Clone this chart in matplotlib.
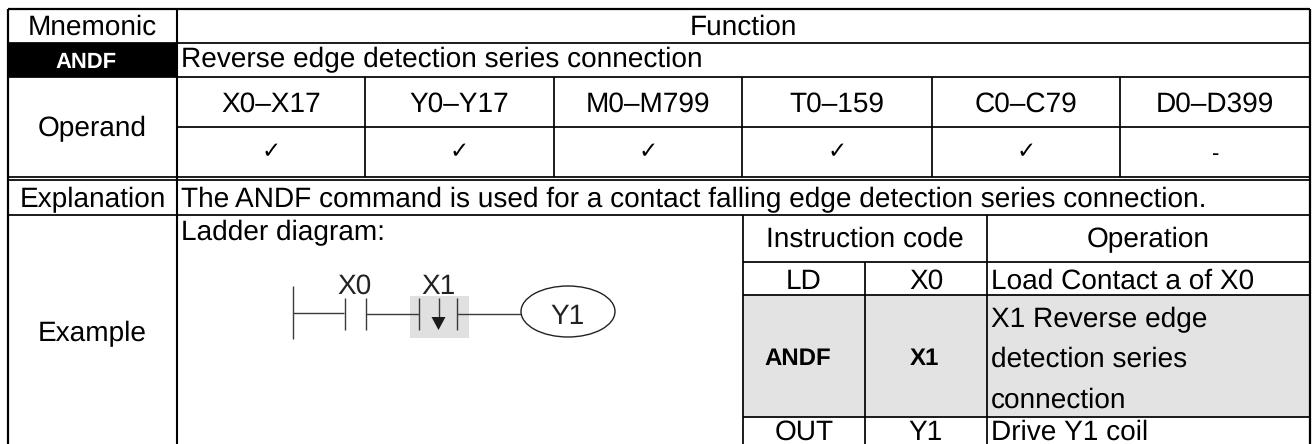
import matplotlib
matplotlib.use("Agg")
import matplotlib.pyplot as plt
from matplotlib.patches import Rectangle, Ellipse, Polygon

plt.rcParams['font.family'] = ['Liberation Sans', 'DejaVu Sans']
plt.rcParams['text.hinting'] = 'none'
plt.rcParams['text.hinting_factor'] = 1

row_labels = ["Mnemonic", "Operand", "Explanation", "Example"]
mnemonic = "ANDF"
function_header = "Function"
function_text = "Reverse edge detection series connection"
operands = ["X0–X17", "Y0–Y17", "M0–M799", "T0–159", "C0–C79", "D0–D399"]
operand_marks = ["✓", "✓", "✓", "✓", "✓", "-"]
explanation = "The ANDF command is used for a contact falling edge detection series connection."
ladder_title = "Ladder diagram:"
code_header = "Instruction code"
op_header = "Operation"
codes = ["LD", "ANDF", "OUT"]
code_args = ["X0", "X1", "Y1"]
operations = ["Load Contact a of X0", "X1 Reverse edge\ndetection series\nconnection", "Drive Y1 coil"]
contacts = ["X0", "X1"]
coil = "Y1"

W, H = 1316, 444
X_EDGES = [8, 177, 365, 554, 742, 932, 1120, 1310]
Y_EDGES = [9, 43, 77, 127, 177.5, 180.5, 214.5, 261.5, 295, 416.5, 444]
XI = [743, 865, 987]

fig = plt.figure(figsize=(W / 100, H / 100), dpi=100, facecolor="white")
ax = fig.add_axes([0, 0, 1, 1])
ax.set_xlim(0, W)
ax.set_ylim(H, 0)
ax.axis("off")

FS = 20
LW = 1.25
INK = "#000000"


def line(x0, y0, x1, y1, lw=LW, c=INK, z=3):
    ax.plot([x0, x1], [y0, y1], color=c, lw=lw, solid_capstyle="butt", zorder=z)


def text(x, y, s, ha="center", fs=FS, weight="normal", c=INK, **kw):
    ax.text(x, y, s, ha=ha, va="baseline", fontsize=fs, fontweight=weight, color=c, zorder=5, **kw)


# fills
ax.add_patch(Rectangle((X_EDGES[0], Y_EDGES[1]), X_EDGES[1] - X_EDGES[0], Y_EDGES[2] - Y_EDGES[1],
                       fc="black", ec="none", zorder=1))
ax.add_patch(Rectangle((XI[0], Y_EDGES[8]), X_EDGES[-1] - XI[0], Y_EDGES[9] - Y_EDGES[8],
                       fc="#e3e3e3", ec="none", zorder=1))
ax.add_patch(Rectangle((410, 296), 59, 42, fc="#e0e0e0", ec="none", zorder=1))

# table rules
L, C, R = X_EDGES[0], X_EDGES[1], X_EDGES[-1]
for y in Y_EDGES[:3] + Y_EDGES[4:7]:
    line(L, y, R, y)
line(C, Y_EDGES[3], R, Y_EDGES[3])
line(L, Y_EDGES[0], R, Y_EDGES[0], lw=1.6)
line(L, Y_EDGES[0], L, H, lw=1.6)
line(R, Y_EDGES[0], R, H, lw=1.6)
line(C, Y_EDGES[0], C, H, lw=1.5)
for x in X_EDGES[2:-1]:
    line(x, Y_EDGES[2], x, Y_EDGES[4])
line(XI[0], Y_EDGES[6], XI[0], H)
line(XI[2], Y_EDGES[6], XI[2], H)
line(XI[1], Y_EDGES[7], XI[1], H)
for y in Y_EDGES[7:10]:
    line(XI[0], y, R, y)

# left column
col_c = (L + C) / 2
for label, y in zip(row_labels, [35, 136, 207, 341]):
    text(col_c, y, label)
text(86.5, 68, mnemonic, fs=16, weight="bold", c="white")

# header cells
text((C + R) / 2, 35, function_header)
text(181, 67, function_text, ha="left")
text(181, 207, explanation, ha="left")
text(181, 240, ladder_title, ha="left")

# operands
for i, (op, mark) in enumerate(zip(operands, operand_marks)):
    xc = (X_EDGES[i + 1] + X_EDGES[i + 2]) / 2
    text(xc, 112, op)
    if mark == "-":
        text(xc, 160, mark, fs=16)
    else:
        text(xc, 158.5, mark, fs=16.5, family="DejaVu Sans")

# instruction table
text((XI[0] + XI[2]) / 2, 247, code_header)
text((XI[2] + R) / 2, 247, op_header)
code_y = [289, 365, 440]
for code, arg, y in zip(codes, code_args, code_y):
    bold = code == mnemonic
    x_code = (XI[0] + XI[1]) / 2 - (6 if bold else 0)
    x_arg = (XI[1] + XI[2]) / 2 - (1.5 if bold else 0)
    text(x_code, y, code, fs=17 if bold else FS, weight="bold" if bold else "normal")
    text(x_arg, y, arg, fs=17 if bold else FS, weight="bold" if bold else "normal")
text(991, 289, operations[0], ha="left")
for s, y in zip(operations[1].split("\n"), [327, 367, 408]):
    text(991, y, s, ha="left")
text(991, 440, operations[2], ha="left")

# ladder diagram
DK = "#3a3a3a"
line(292.7, 286, 292.7, 339, lw=1.0, c=DK)
line(292.7, 313, 344, 313, lw=1.0, c=DK)
line(345, 298, 345, 330, lw=1.0, c=DK)
line(366, 298, 366, 330, lw=1.0, c=DK)
line(366, 313.5, 419, 313.5, lw=1.0, c=DK)
line(419, 298, 419, 330, lw=1.0, c=DK)
line(457, 298, 457, 330, lw=1.0, c=DK)
line(457, 313.5, 521, 313.5, lw=1.0, c=DK)
line(438.5, 298, 438.5, 320, lw=1.0, c=DK)
ax.add_patch(Polygon([(431.5, 317), (445.5, 317), (438.5, 330)], fc="#1a1a1a", ec="none", zorder=4))
ax.add_patch(Ellipse((568, 311.5), 94, 51, fc="none", ec="#222222", lw=1.0, zorder=4))
text(354.5, 293.5, contacts[0], c="#222222")
text(439, 293.5, contacts[1], c="#222222")
text(568, 324, coil, c="#222222")

fig.savefig("out.png", dpi=100)
